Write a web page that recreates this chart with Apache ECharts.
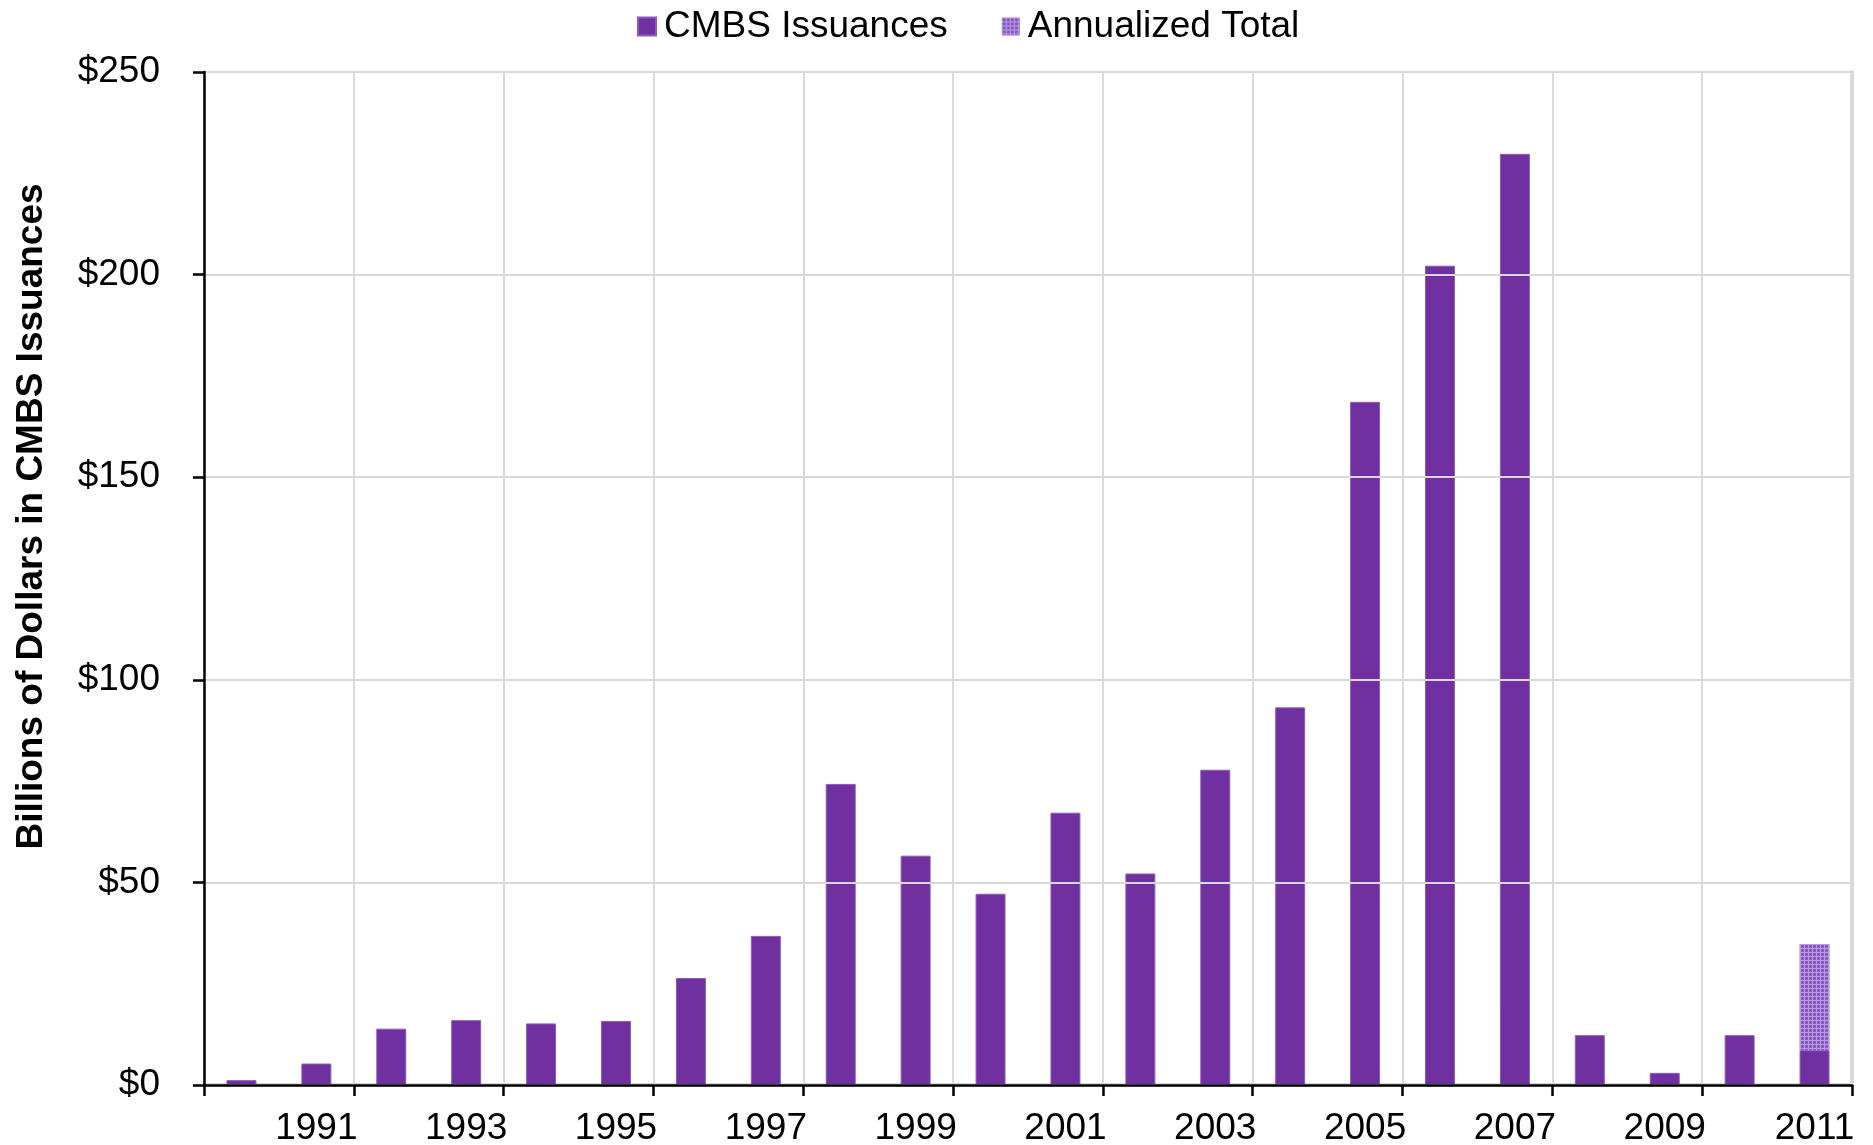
<!DOCTYPE html>
<html>
<head>
<meta charset="utf-8">
<title>CMBS Issuances</title>
<script src="https://cdn.jsdelivr.net/npm/echarts@6/dist/echarts.min.js"></script>
<style>
  html, body { margin: 0; padding: 0; background: #ffffff; }
  #chart { width: 1873px; height: 1145px; }
</style>
</head>
<body>
<div id="chart"></div>
<script>
// Annual CMBS issuance, billions of US dollars
const years = ['1990','1991','1992','1993','1994','1995','1996','1997','1998','1999','2000',
               '2001','2002','2003','2004','2005','2006','2007','2008','2009','2010','2011'];
const issuances = [1.2, 5.3, 13.9, 16.0, 15.2, 15.8, 26.4, 36.8, 74.3, 56.6, 47.2,
                   67.2, 52.2, 77.8, 93.2, 168.6, 202.2, 229.8, 12.3, 3.0, 12.3, 8.6];
// Extra amount on top of year-to-date 2011 that brings it to the annualized total
const annualizedExtra = [null, null, null, null, null, null, null, null, null, null, null,
                         null, null, null, null, null, null, null, null, null, null, 26.2];
const yTicks = [0, 50, 100, 150, 200, 250];

const PURPLE = '#7030a0';
const GRID_GRAY = '#d9d9d9';
const FONT = 'Liberation Sans, Arial, sans-serif';

// Small checked tile used to fill the annualized portion
function checkPattern() {
  const c = document.createElement('canvas');
  c.width = 4; c.height = 4;
  const g = c.getContext('2d');
  g.fillStyle = '#8d5cc4';
  g.fillRect(0, 0, 4, 4);
  g.fillStyle = '#b89ade';
  g.fillRect(0, 0, 4, 1);
  g.fillRect(0, 0, 1, 4);
  g.fillStyle = '#7a48b4';
  g.fillRect(2, 2, 1, 1);
  return c;
}
const pattern = { image: checkPattern(), repeat: 'repeat' };

const chart = echarts.init(document.getElementById('chart'), null, { renderer: 'canvas' });

chart.setOption({
  animation: false,
  backgroundColor: '#ffffff',
  textStyle: { fontFamily: FONT },
  legend: {
    top: 3,
    left: 632,
    itemWidth: 18,
    itemHeight: 18,
    itemGap: 54,
    icon: 'rect',
    textStyle: { fontSize: 37, color: '#000', fontFamily: FONT, padding: [0, 0, 0, 3] },
    data: ['CMBS Issuances', 'Annualized Total']
  },
  grid: { left: 204, right: 21, top: 72, bottom: 60, containLabel: false, outerBoundsMode: 'none' },
  xAxis: [{
    type: 'category',
    data: years,
    boundaryGap: true,
    axisLine: { lineStyle: { color: '#000', width: 2.5 } },
    axisTick: { show: true, length: 11, interval: (i) => i % 2 === 0, lineStyle: { color: '#000', width: 2.5 } },
    axisLabel: {
      interval: (i) => i % 2 === 1,
      margin: 25,
      fontSize: 37,
      color: '#000',
      fontFamily: FONT
    },
    splitLine: { show: true, interval: (i) => i % 2 === 0, lineStyle: { color: GRID_GRAY, width: 2 } },
    z: 5
  }, {
    // top edge of the plot frame
    type: 'category',
    data: years,
    position: 'top',
    axisLine: { show: true, lineStyle: { color: GRID_GRAY, width: 4 } },
    axisTick: { show: false },
    axisLabel: { show: false },
    splitLine: { show: false }
  }],
  yAxis: [{
    type: 'value',
    min: yTicks[0],
    max: yTicks[yTicks.length - 1],
    interval: 50,
    name: 'Billions of Dollars in CMBS Issuances',
    nameLocation: 'middle',
    nameGap: 154,
    nameTextStyle: {
      fontSize: 37, fontWeight: 'bold', color: '#000', fontFamily: FONT,
      padding: [0, 0, 0, 124]
    },
    axisLine: { show: true, lineStyle: { color: '#000', width: 2.5 } },
    axisTick: { show: true, length: 11, inside: false, lineStyle: { color: '#000', width: 2.5 } },
    axisLabel: {
      margin: 44,
      fontSize: 37,
      color: '#000',
      fontFamily: FONT,
      formatter: (v) => '$' + v
    },
    splitLine: { show: true, lineStyle: { color: GRID_GRAY, width: 2 } },
    z: 5
  }, {
    // right edge of the plot frame
    type: 'value',
    position: 'right',
    min: yTicks[0],
    max: yTicks[yTicks.length - 1],
    interval: 50,
    axisLine: { show: true, lineStyle: { color: GRID_GRAY, width: 4 } },
    axisTick: { show: false },
    axisLabel: { show: false },
    splitLine: { show: false }
  }],
  series: [{
    name: 'CMBS Issuances',
    type: 'bar',
    stack: 'total',
    data: issuances,
    barWidth: '40%',
    itemStyle: { color: PURPLE, borderColor: '#8a5bbd', borderWidth: 1 },
    z: 3
  }, {
    name: 'Annualized Total',
    type: 'bar',
    stack: 'total',
    data: annualizedExtra,
    barWidth: '40%',
    itemStyle: { color: pattern },
    z: 3
  }]
});
</script>
</body>
</html>
